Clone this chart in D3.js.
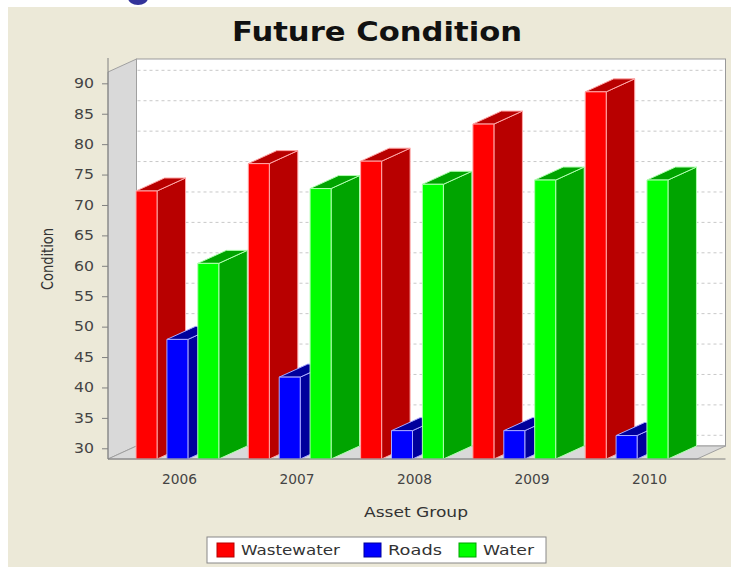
<!DOCTYPE html>
<html><head><meta charset="utf-8">
<script src="https://cdn.jsdelivr.net/npm/d3@7"></script>
<style>html,body{margin:0;padding:0;background:#fff;} svg{display:block}</style>
</head><body>
<svg id="chart" width="731" height="567"></svg>
<script>
const categories = ["2006","2007","2008","2009","2010"];
const seriesNames = ["Wastewater","Roads","Water"];
const wastewater = [72.3, 76.8, 77.2, 83.3, 88.6];
const roads = [47.9, 41.7, 32.9, 32.9, 32.1];
const water = [60.4, 72.7, 73.4, 74.1, 74.1];
const yTicks = [30,35,40,45,50,55,60,65,70,75,80,85,90];
const frontColors = ["#FF0000","#0000FF","#00FF00"];
const sideColors = ["#B80000","#00009C","#00A400"];
const edgeColors = ["#FFA8A8","#A8A8FF","#B0FFB0"];
const seriesValues = [wastewater, roads, water];

(function () {
const W = 731, H = 567;
const svg = d3.select("#chart");
const FONT = "'DejaVu Sans', Verdana, sans-serif";

svg.append("rect").attr("width", W).attr("height", H).attr("fill", "#fff");
svg.append("rect").attr("x", 8).attr("y", 7).attr("width", W - 8).attr("height", H - 7).attr("fill", "#ECE9D8");
svg.append("ellipse").attr("cx", 138).attr("cy", -2).attr("rx", 10).attr("ry", 7).attr("fill", "#33339a");

// title
svg.append("text").attr("x", 377).attr("y", 41).attr("text-anchor", "middle")
  .attr("font-family", FONT).attr("font-weight", "bold").attr("font-size", 26)
  .attr("textLength", 290).attr("lengthAdjust", "spacingAndGlyphs")
  .attr("fill", "#111").text("Future Condition");

const dx = 28.5, dy = -13;
const pLeft = 108, pRight = 697, pBottom = 459, pTop = 72;
const y = d3.scaleLinear().domain([28.24, 91.86]).range([pBottom, pTop]);
const x0 = d3.scaleBand().domain(categories).range([106.5, 697.5]).paddingInner(0.263).paddingOuter(0.263);
const x1 = d3.scaleBand().domain(seriesNames).range([0, x0.bandwidth()]).paddingInner(0.32).paddingOuter(0);
const xLab = d3.scalePoint().domain(categories).range([179, 649]);

const pts = a => a.map(p => p.join(",")).join(" ");

// back wall
svg.append("rect").attr("x", pLeft + dx).attr("y", pTop + dy)
  .attr("width", pRight - pLeft).attr("height", pBottom - pTop)
  .attr("fill", "#fff").attr("stroke", "#999").attr("stroke-width", 1);
// left wall
svg.append("polygon").attr("points", pts([[pLeft, pTop], [pLeft + dx, pTop + dy], [pLeft + dx, pBottom + dy], [pLeft, pBottom]]))
  .attr("fill", "#D9D9D9").attr("stroke", "#A0A0A0");
// floor
svg.append("polygon").attr("points", pts([[pLeft, pBottom], [pRight, pBottom], [pRight + dx, pBottom + dy], [pLeft + dx, pBottom + dy]]))
  .attr("fill", "#D9D9D9").attr("stroke", "#A0A0A0");

// gridlines on back wall
svg.append("g").selectAll("line").data(yTicks).join("line")
  .attr("x1", pLeft + dx + 1).attr("x2", pRight + dx - 1)
  .attr("y1", d => y(d) + dy).attr("y2", d => y(d) + dy)
  .attr("stroke", "#C8C8C8").attr("stroke-dasharray", "3,3").attr("stroke-width", 1);

// bars
const gBars = svg.append("g");
categories.forEach((c, i) => {
  seriesNames.forEach((s, k) => {
    const v = seriesValues[k][i];
    const xf = x0(c) + x1(s), w = x1.bandwidth();
    const yt = y(v), yb = pBottom;
    const g = gBars.append("g").attr("stroke", edgeColors[k]).attr("stroke-width", 1).attr("stroke-linejoin", "round");
    g.append("polygon").attr("points", pts([[xf + w, yt], [xf + w + dx, yt + dy], [xf + w + dx, yb + dy], [xf + w, yb]]))
      .attr("fill", sideColors[k]);
    g.append("polygon").attr("points", pts([[xf, yt], [xf + w, yt], [xf + w + dx, yt + dy], [xf + dx, yt + dy]]))
      .attr("fill", sideColors[k]);
    g.append("rect").attr("x", xf).attr("y", yt).attr("width", w).attr("height", yb - yt)
      .attr("fill", frontColors[k]);
  });
});

// y axis
const yAxis = svg.append("g").attr("transform", `translate(${pLeft},0)`)
  .call(d3.axisLeft(y).tickValues(yTicks).tickSize(6).tickSizeOuter(0).tickPadding(8));
yAxis.select(".domain").remove();
yAxis.selectAll(".tick line").attr("stroke", "#808080");
yAxis.selectAll(".tick text").attr("font-family", FONT).attr("font-size", 13.5).attr("fill", "#444")
  .attr("textLength", 20).attr("lengthAdjust", "spacingAndGlyphs");
svg.append("line").attr("x1", pLeft).attr("x2", pLeft).attr("y1", pTop + dy - 1).attr("y2", pBottom)
  .attr("stroke", "#808080");

// x axis
svg.append("line").attr("x1", pLeft).attr("x2", pRight + dx).attr("y1", pBottom).attr("y2", pBottom)
  .attr("stroke", "#808080");
const xAxis = svg.append("g").attr("transform", `translate(0,${pBottom})`)
  .call(d3.axisBottom(xLab).tickSize(0).tickPadding(15));
xAxis.select(".domain").remove();
xAxis.selectAll(".tick text").attr("font-family", FONT).attr("font-size", 13.5).attr("fill", "#444")
  .attr("textLength", 35).attr("lengthAdjust", "spacingAndGlyphs");

// axis titles
svg.append("text").attr("x", 416).attr("y", 517).attr("text-anchor", "middle")
  .attr("font-family", FONT).attr("font-size", 13.5).attr("fill", "#333")
  .attr("textLength", 104).attr("lengthAdjust", "spacingAndGlyphs").text("Asset Group");
svg.append("text").attr("transform", "translate(53,259) rotate(-90)").attr("text-anchor", "middle")
  .attr("font-family", FONT).attr("font-size", 15).attr("fill", "#333")
  .attr("textLength", 62).attr("lengthAdjust", "spacingAndGlyphs").text("Condition");

// legend
const lg = svg.append("g");
lg.append("rect").attr("x", 207).attr("y", 537).attr("width", 339).attr("height", 26)
  .attr("fill", "#fff").attr("stroke", "#888");
const legX = [217, 364, 459];
const legW = [99, 54, 51];
seriesNames.forEach((s, k) => {
  lg.append("rect").attr("x", legX[k]).attr("y", 543).attr("width", 17).attr("height", 14)
    .attr("fill", frontColors[k]).attr("stroke", sideColors[k]);
  lg.append("text").attr("x", legX[k] + 24).attr("y", 555)
    .attr("font-family", FONT).attr("font-size", 13.5).attr("fill", "#333")
    .attr("textLength", legW[k]).attr("lengthAdjust", "spacingAndGlyphs").text(s);
});
})();
</script>
</body></html>
